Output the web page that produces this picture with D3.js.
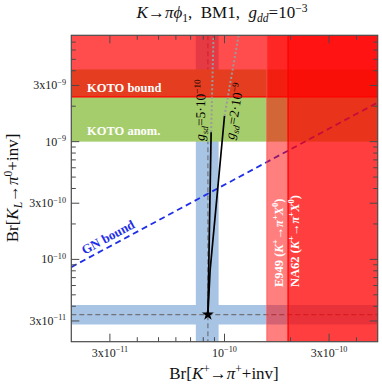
<!DOCTYPE html>
<html><head><meta charset="utf-8">
<script src="https://cdn.jsdelivr.net/npm/d3@7"></script>
<style>
html,body{margin:0;padding:0;background:#fff;}
svg text{font-family:"Liberation Serif","Times New Roman",serif;white-space:pre;}
</style></head>
<body><svg id="c" width="382" height="386"></svg>
<script>
// ---- data ----
const xDomain = [2e-11, 5e-10];
const yDomain = [2e-11, 8e-9];
const xMajorTicks = [3e-11, 1e-10, 3e-10];
const xTickLabels = [["3x10","−11"],["10","−10"],["3x10","−10"]];
const xMinorTicks = [4e-11,5e-11,6e-11,7e-11,8e-11,9e-11,2e-10,4e-10];
const yMajorTicks = [3e-11, 1e-10, 3e-10, 1e-9, 3e-9];
const yTickLabels = [["3x10","−11"],["10","−10"],["3x10","−10"],["10","−9"],["3x10","−9"]];
const yMinorTicks = [4e-11,5e-11,6e-11,7e-11,8e-11,9e-11,2e-10,4e-10,5e-10,6e-10,7e-10,8e-10,9e-10,2e-9,4e-9,5e-9,6e-9,7e-9];
const kPlusSM = [7.4e-11, 8.4e-11, 9.4e-11];    // low, central, high
const kLongSM = [2.8e-11, 3.4e-11, 4.1e-11];
const kotoAnomaly = [1.0e-9, 4.1e-9];
const kotoBound = 2.4e-9;
const e949Bound = 1.56e-10;
const na62Bound = 1.95e-10;
const gnBound = [[2e-11, 8.6e-11],[5e-10, 2.15e-9]];
const curveG1 = [[8.4e-11, 3.4e-11],[8.69e-11, 1.2e-9]];
const curveG1Dotted = [[8.69e-11, 1.2e-9],[8.91e-11, 8e-9]];
const curveG2 = [[8.4e-11, 3.4e-11],[8.6e-11, 8.15e-11],[1.0e-10, 1.65e-9]];
const curveG2Dotted = [[1.0e-10, 1.65e-9],[1.16e-10, 8e-9]];

// ---- layout ----
const L=71.3, T=35.3, R=377.7, B=341.7;
const svg = d3.select("#c");
const x = d3.scaleLog().domain(xDomain).range([L, R]);
const y = d3.scaleLog().domain(yDomain).range([B, T]);

function rich(sel, parts, fs){
  let off = 0;
  parts.forEach(([t, kind])=>{
    kind = kind || "";
    let target = 0, size = fs;
    const italic = kind.includes("i");
    if (kind.includes("sup")) { target = -0.38*fs; size = 0.68*fs; }
    if (kind.includes("sub")) { target = 0.25*fs; size = 0.68*fs; }
    const ts = sel.append("tspan").attr("font-size", size).text(t);
    if (target - off !== 0) ts.attr("dy", target - off);
    if (italic) ts.attr("font-style", "italic");
    off = target;
  });
}

svg.append("defs").append("clipPath").attr("id","clip")
  .append("rect").attr("x",L).attr("y",T).attr("width",R-L).attr("height",B-T);
const g = svg.append("g").attr("clip-path","url(#clip)");

const blue = "#a7c4e5", green = "#a6cd6c";
// SM bands
g.append("rect").attr("x",L).attr("width",R-L)
  .attr("y",y(kLongSM[2])).attr("height",y(kLongSM[0])-y(kLongSM[2])).attr("fill",blue);
g.append("rect").attr("y",T).attr("height",B-T)
  .attr("x",x(kPlusSM[0])).attr("width",x(kPlusSM[2])-x(kPlusSM[0])).attr("fill",blue);
// SM dashed lines
g.append("line").attr("x1",L).attr("x2",R).attr("y1",y(kLongSM[1])).attr("y2",y(kLongSM[1]))
  .attr("stroke","#6f7278").attr("stroke-width",1.2).attr("stroke-dasharray","5,3");
g.append("line").attr("y1",T).attr("y2",B).attr("x1",x(kPlusSM[1])).attr("x2",x(kPlusSM[1]))
  .attr("stroke","#6f7278").attr("stroke-width",1.2).attr("stroke-dasharray","5,3");
// KOTO anomaly band
g.append("rect").attr("x",L).attr("width",R-L)
  .attr("y",y(kotoAnomaly[1])).attr("height",y(kotoAnomaly[0])-y(kotoAnomaly[1])).attr("fill",green);
// GN bound
const line = d3.line().x(d=>x(d[0])).y(d=>y(d[1]));
g.append("path").attr("d",line(gnBound)).attr("fill","none")
  .attr("stroke","#1f2ee8").attr("stroke-width",1.8).attr("stroke-dasharray","6,4");
// KOTO bound region
g.append("rect").attr("x",L).attr("width",R-L).attr("y",T).attr("height",y(kotoBound)-T)
  .attr("fill","#ff0000").attr("fill-opacity",0.7);
g.append("line").attr("x1",L).attr("x2",R).attr("y1",y(kotoBound)).attr("y2",y(kotoBound))
  .attr("stroke","#ff0000").attr("stroke-width",1.2);
// E949 / NA62
g.append("rect").attr("x",x(e949Bound)).attr("width",R-x(e949Bound)).attr("y",T).attr("height",B-T)
  .attr("fill","#ff0000").attr("fill-opacity",0.5);
g.append("rect").attr("x",x(na62Bound)).attr("width",R-x(na62Bound)).attr("y",T).attr("height",B-T)
  .attr("fill","#ff0000").attr("fill-opacity",0.5);
g.append("line").attr("y1",T).attr("y2",B).attr("x1",x(na62Bound)).attr("x2",x(na62Bound))
  .attr("stroke","#ff0000").attr("stroke-width",1.3);
g.append("line").attr("y1",T).attr("y2",B).attr("x1",x(e949Bound)).attr("x2",x(e949Bound))
  .attr("stroke","#ff5050").attr("stroke-width",0.8);

// region labels
const serif = "Liberation Serif";
const kb = g.append("text").attr("x",87).attr("y",92).attr("fill","#fff").attr("font-weight","bold").attr("font-family",serif);
rich(kb, [["KOTO bound",""]], 12.5);
const ka = g.append("text").attr("x",87).attr("y",135).attr("fill","#fff").attr("font-weight","bold").attr("font-family",serif);
rich(ka, [["KOTO anom.",""]], 12.5);
const gnAng = Math.atan2(y(gnBound[1][1])-y(gnBound[0][1]), x(gnBound[1][0])-x(gnBound[0][0]))*180/Math.PI;
const gn = g.append("text").attr("transform",`translate(110,241) rotate(${gnAng})`)
  .attr("text-anchor","middle").attr("fill","#1f2ee8").attr("font-weight","bold").attr("font-family",serif);
rich(gn, [["GN bound",""]], 13);
const e9 = g.append("text").attr("transform","translate(282.5,287) rotate(-90)")
  .attr("fill","#fff").attr("font-weight","bold").attr("font-family",serif);
rich(e9, [["E949 (",""],["K","i"],["+","sup"],["→",""],["π","i"],["+","sup"],["X","i"],["0","sup"],[")",""]], 12.5);
const na = g.append("text").attr("transform","translate(299,287) rotate(-90)")
  .attr("fill","#fff").attr("font-weight","bold").attr("font-family",serif);
rich(na, [["NA62 (",""],["K","i"],["+","sup"],["→",""],["π","i"],["+","sup"],["X","i"],["0","sup"],[")",""]], 12.5);

// model curves
[curveG1Dotted, curveG2Dotted].forEach(c=>{
  g.append("path").attr("d",line(c)).attr("fill","none").attr("stroke","#9a9a9a")
    .attr("stroke-width",2).attr("stroke-dasharray","2,2.2");
});
[curveG1, curveG2].forEach(c=>{
  g.append("path").attr("d",line(c)).attr("fill","none").attr("stroke","#000")
    .attr("stroke-width",1.7).attr("stroke-linejoin","round");
});
g.append("path").attr("d",d3.symbol().type(d3.symbolStar).size(45)())
  .attr("transform",`translate(${x(kPlusSM[1])},${y(kLongSM[1])})`).attr("fill","#000");

const l1 = g.append("text").attr("transform","translate(204.5,141) rotate(-89)").attr("fill","#000");
rich(l1, [["g","i"],["sd","isub"],["=5·10",""],["−10","sup"]], 13.5);
const l2 = g.append("text").attr("transform","translate(234,140) rotate(-80)").attr("fill","#000");
rich(l2, [["g","i"],["sd","isub"],["=2·10",""],["−9","sup"]], 13.5);

// frame and ticks
const axC = "#4a4a4a";
svg.append("rect").attr("x",L).attr("y",T).attr("width",R-L).attr("height",B-T)
  .attr("fill","none").attr("stroke",axC).attr("stroke-width",1.2);
const tk = svg.append("g").attr("stroke",axC).attr("stroke-width",1);
xMajorTicks.forEach(v=>{
  tk.append("line").attr("x1",x(v)).attr("x2",x(v)).attr("y1",B).attr("y2",B-8);
  tk.append("line").attr("x1",x(v)).attr("x2",x(v)).attr("y1",T).attr("y2",T+8);
});
xMinorTicks.forEach(v=>{
  tk.append("line").attr("x1",x(v)).attr("x2",x(v)).attr("y1",B).attr("y2",B-4.5);
  tk.append("line").attr("x1",x(v)).attr("x2",x(v)).attr("y1",T).attr("y2",T+4.5);
});
yMajorTicks.forEach(v=>{
  tk.append("line").attr("y1",y(v)).attr("y2",y(v)).attr("x1",L).attr("x2",L+8);
  tk.append("line").attr("y1",y(v)).attr("y2",y(v)).attr("x1",R).attr("x2",R-8);
});
yMinorTicks.forEach(v=>{
  tk.append("line").attr("y1",y(v)).attr("y2",y(v)).attr("x1",L).attr("x2",L+4.5);
  tk.append("line").attr("y1",y(v)).attr("y2",y(v)).attr("x1",R).attr("x2",R-4.5);
});
xMajorTicks.forEach((v,i)=>{
  const t = svg.append("text").attr("x",x(v)).attr("y",357).attr("text-anchor","middle").attr("fill","#222");
  rich(t, [[xTickLabels[i][0],""],[xTickLabels[i][1],"sup"]], 12);
});
yMajorTicks.forEach((v,i)=>{
  const t = svg.append("text").attr("x",66).attr("y",y(v)+4).attr("text-anchor","end").attr("fill","#222");
  rich(t, [[yTickLabels[i][0],""],[yTickLabels[i][1],"sup"]], 12);
});

// titles
const tt = svg.append("text").attr("x",222).attr("y",18).attr("text-anchor","middle").attr("fill","#111");
rich(tt, [["K","i"],["→",""],["π","i"],["ϕ","i"],["1","sub"],[",  BM1,  ",""],["g","i"],["dd","isub"],["=10",""],["−3","sup"]], 17);
const xl = svg.append("text").attr("x",224).attr("y",379).attr("text-anchor","middle").attr("fill","#111");
rich(xl, [["Br[",""],["K","i"],["+","sup"],["→",""],["π","i"],["+","sup"],["+inv]",""]], 17);
const yl = svg.append("text").attr("transform","translate(18,188) rotate(-90)").attr("text-anchor","middle").attr("fill","#111");
rich(yl, [["Br[",""],["K","i"],["L","isub"],["→",""],["π","i"],["0","sup"],["+inv]",""]], 17);
</script></body></html>
